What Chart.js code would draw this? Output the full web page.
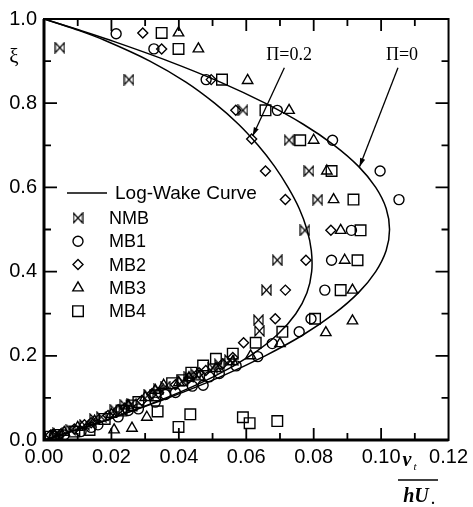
<!DOCTYPE html>
<html>
<head>
<meta charset="utf-8">
<script src="https://cdn.jsdelivr.net/npm/chart.js@4"></script>
<style>
  body { margin: 0; background: #fff; }
  #wrap { width: 473px; height: 507px; }
</style>
</head>
<body>
<div id="wrap"><canvas id="chart"></canvas></div>
<script>
// log-wake curves (xi on y axis, nu_t/hU* on x axis)
const curveXi = [0, 0.025, 0.05, 0.1, 0.15, 0.2, 0.25, 0.3, 0.35, 0.4, 0.45, 0.5, 0.55, 0.6, 0.65, 0.7, 0.75, 0.8, 0.85, 0.9, 0.95, 0.975, 1];
const piZeroNu = [0, 0.0100, 0.0195, 0.0369, 0.0523, 0.0656, 0.0769, 0.0861, 0.0933, 0.0984, 0.1015, 0.1025, 0.1015, 0.0984, 0.0933, 0.0861, 0.0769, 0.0656, 0.0523, 0.0369, 0.0195, 0.0100, 0];
const piTwoNu = [0, 0.0100, 0.0194, 0.0362, 0.0502, 0.0611, 0.0692, 0.0747, 0.0780, 0.0794, 0.0793, 0.0780, 0.0757, 0.0724, 0.0684, 0.0635, 0.0577, 0.0506, 0.0421, 0.0314, 0.0178, 0.0095, 0];

// measured points
const nmbX = [0.0047, 0.0252, 0.0590, 0.0727, 0.0786, 0.0812, 0.0774, 0.0692, 0.0660, 0.0636, 0.0639, 0.004, 0.008, 0.012, 0.017, 0.021, 0.026, 0.031, 0.036, 0.041, 0.045, 0.050, 0.055, 0.003, 0.015, 0.024, 0.034, 0.043, 0.052];
const nmbY = [0.932, 0.856, 0.783, 0.712, 0.639, 0.571, 0.498, 0.427, 0.356, 0.285, 0.259, 0.016, 0.024, 0.036, 0.055, 0.072, 0.086, 0.108, 0.127, 0.140, 0.156, 0.172, 0.190, 0.010, 0.050, 0.083, 0.120, 0.150, 0.180];

const mb1X = [0.0214, 0.0326, 0.0481, 0.0692, 0.0856, 0.0997, 0.1053, 0.0912, 0.0853, 0.0833, 0.0792, 0.0757, 0.0677, 0.0634, 0.006, 0.011, 0.016, 0.022, 0.028, 0.033, 0.039, 0.044, 0.0472, 0.052, 0.057, 0.003, 0.014, 0.025, 0.036, 0.049];
const mb1Y = [0.965, 0.929, 0.856, 0.783, 0.712, 0.639, 0.571, 0.498, 0.427, 0.356, 0.288, 0.257, 0.229, 0.198, 0.012, 0.020, 0.036, 0.055, 0.074, 0.090, 0.113, 0.128, 0.130, 0.158, 0.176, 0.008, 0.030, 0.070, 0.108, 0.150];

const mb2X = [0.0293, 0.0349, 0.0496, 0.0569, 0.0616, 0.0657, 0.0716, 0.0851, 0.0777, 0.0716, 0.0686, 0.0592, 0.005, 0.009, 0.014, 0.019, 0.024, 0.029, 0.034, 0.039, 0.043, 0.048, 0.053, 0.002, 0.012, 0.022, 0.032, 0.046, 0.056];
const mb2Y = [0.967, 0.929, 0.856, 0.783, 0.715, 0.639, 0.571, 0.498, 0.427, 0.356, 0.288, 0.231, 0.014, 0.026, 0.041, 0.058, 0.076, 0.094, 0.112, 0.131, 0.147, 0.165, 0.181, 0.012, 0.036, 0.072, 0.110, 0.160, 0.196];

const mb3X = [0.0399, 0.0458, 0.0604, 0.0727, 0.0800, 0.0839, 0.0859, 0.0880, 0.0892, 0.0915, 0.0915, 0.0836, 0.0700, 0.0613, 0.006, 0.010, 0.015, 0.0208, 0.0261, 0.0305, 0.020, 0.025, 0.030, 0.0355, 0.040, 0.046, 0.051, 0.056, 0.003, 0.033, 0.043];
const mb3Y = [0.967, 0.929, 0.854, 0.783, 0.712, 0.639, 0.571, 0.498, 0.427, 0.356, 0.283, 0.255, 0.229, 0.200, 0.018, 0.030, 0.045, 0.024, 0.028, 0.054, 0.061, 0.081, 0.101, 0.130, 0.136, 0.150, 0.170, 0.186, 0.012, 0.118, 0.148];

const mb4X = [0.0349, 0.0399, 0.0528, 0.0657, 0.0760, 0.0853, 0.0918, 0.0939, 0.0930, 0.0880, 0.0804, 0.0707, 0.0628, 0.0560, 0.0590, 0.0610, 0.0692, 0.0399, 0.0434, 0.0337, 0.0135, 0.004, 0.009, 0.018, 0.023, 0.028, 0.033, 0.038, 0.0437, 0.0472, 0.0510, 0.002, 0.026, 0.041];
const mb4Y = [0.967, 0.929, 0.856, 0.783, 0.712, 0.639, 0.571, 0.498, 0.427, 0.356, 0.288, 0.257, 0.231, 0.205, 0.054, 0.040, 0.045, 0.031, 0.061, 0.068, 0.024, 0.012, 0.020, 0.050, 0.070, 0.090, 0.106, 0.135, 0.160, 0.177, 0.193, 0.008, 0.082, 0.142];

const legendLabels = ["NMB", "MB1", "MB2", "MB3", "MB4"];

function pts(xs, ys) {
  return xs.map((v, i) => ({ x: v, y: ys[i] }));
}

// bow-tie marker for NMB
function bowtie() {
  const c = document.createElement("canvas");
  c.width = 11;
  c.height = 12;
  const g = c.getContext("2d");
  g.strokeStyle = "#000";
  g.lineWidth = 1.2;
  g.beginPath();
  g.moveTo(1, 1);
  g.lineTo(1, 11);
  g.lineTo(10, 1);
  g.lineTo(10, 11);
  g.closePath();
  g.stroke();
  return c;
}
const bowtieImg = bowtie();

function marker(style, radius) {
  return {
    type: "scatter",
    pointStyle: style,
    pointRadius: radius,
    pointHoverRadius: radius,
    pointBorderColor: "#000",
    pointBackgroundColor: "rgba(0,0,0,0)",
    pointBorderWidth: 1.4,
  };
}

function curve(nu) {
  return {
    type: "scatter",
    data: pts(nu, curveXi),
    showLine: true,
    borderColor: "#000",
    borderWidth: 1.5,
    pointRadius: 0,
    tension: 0.35,
  };
}

function drawSymbol(ctx, kind, x, y) {
  ctx.beginPath();
  if (kind === "NMB") {
    ctx.drawImage(bowtieImg, x - 5.5, y - 6);
    return;
  }
  if (kind === "MB1") ctx.arc(x, y, 5, 0, Math.PI * 2);
  if (kind === "MB2") {
    ctx.moveTo(x - 5, y); ctx.lineTo(x, y - 5); ctx.lineTo(x + 5, y); ctx.lineTo(x, y + 5); ctx.closePath();
  }
  if (kind === "MB3") {
    ctx.moveTo(x, y - 6); ctx.lineTo(x + 5.2, y + 3); ctx.lineTo(x - 5.2, y + 3); ctx.closePath();
  }
  if (kind === "MB4") ctx.rect(x - 5.3, y - 5.3, 10.6, 10.6);
  ctx.stroke();
}

function arrow(ctx, x1, y1, x2, y2) {
  ctx.beginPath();
  ctx.moveTo(x1, y1);
  ctx.lineTo(x2, y2);
  ctx.stroke();
  const ang = Math.atan2(y2 - y1, x2 - x1);
  ctx.beginPath();
  ctx.moveTo(x2, y2);
  ctx.lineTo(x2 - 9 * Math.cos(ang - 0.3), y2 - 9 * Math.sin(ang - 0.3));
  ctx.lineTo(x2 - 9 * Math.cos(ang + 0.3), y2 - 9 * Math.sin(ang + 0.3));
  ctx.closePath();
  ctx.fill();
}

const decor = {
  id: "decor",
  afterDraw(chart) {
    const { ctx, chartArea: a } = chart;
    const x = chart.scales.x;
    const y = chart.scales.y;
    ctx.save();
    ctx.strokeStyle = "#000";
    ctx.fillStyle = "#000";

    // inward ticks
    ctx.lineWidth = 1.8;
    for (let i = 1; i < 12; i++) {
      const px = x.getPixelForValue(i * 0.01);
      const len = i % 2 === 0 ? 12 : 7;
      ctx.beginPath();
      ctx.moveTo(px, a.bottom); ctx.lineTo(px, a.bottom - len);
      ctx.moveTo(px, a.top); ctx.lineTo(px, a.top + len);
      ctx.stroke();
    }
    for (let i = 1; i < 10; i++) {
      const py = y.getPixelForValue(i * 0.1);
      const len = i % 2 === 0 ? 13 : 7;
      ctx.beginPath();
      ctx.moveTo(a.left, py); ctx.lineTo(a.left + len, py);
      ctx.moveTo(a.right, py); ctx.lineTo(a.right - len, py);
      ctx.stroke();
    }

    // frame
    ctx.lineWidth = 2;
    ctx.strokeRect(a.left, a.top, a.right - a.left, a.bottom - a.top);
    ctx.lineWidth = 3;
    ctx.beginPath();
    ctx.moveTo(a.left, a.top);
    ctx.lineTo(a.left, a.bottom);
    ctx.lineTo(a.right, a.bottom);
    ctx.stroke();

    // legend
    ctx.lineWidth = 1.5;
    ctx.beginPath();
    ctx.moveTo(a.left + 23, a.top + 174);
    ctx.lineTo(a.left + 63, a.top + 174);
    ctx.stroke();
    ctx.textBaseline = "middle";
    ctx.font = "19px 'Liberation Sans', Arial, sans-serif";
    ctx.fillText("Log-Wake Curve", a.left + 71, a.top + 175);
    ctx.font = "18px 'Liberation Sans', Arial, sans-serif";
    ctx.lineWidth = 1.4;
    legendLabels.forEach((lab, i) => {
      const ly = a.top + 199 + i * 23.3;
      drawSymbol(ctx, lab, a.left + 34, ly);
      ctx.fillText(lab, a.left + 65, ly + 1);
    });

    // annotations
    ctx.font = "18px 'Liberation Serif', 'Times New Roman', serif";
    ctx.textAlign = "center";
    ctx.fillText("\u03A0=0.2", x.getPixelForValue(0.0727), y.getPixelForValue(0.913));
    ctx.fillText("\u03A0=0", x.getPixelForValue(0.1062), y.getPixelForValue(0.913));
    ctx.lineWidth = 1.3;
    arrow(ctx, x.getPixelForValue(0.0713), y.getPixelForValue(0.884), x.getPixelForValue(0.0619), y.getPixelForValue(0.722));
    arrow(ctx, x.getPixelForValue(0.105), y.getPixelForValue(0.884), x.getPixelForValue(0.0936), y.getPixelForValue(0.649));

    // axis titles
    ctx.font = "21px 'Liberation Serif', serif";
    ctx.fillText("\u03BE", 14, 57);

    ctx.font = "italic bold 20px 'Liberation Serif', serif";
    ctx.fillText("\u03BD", 407, 461);
    ctx.font = "italic 11px 'Liberation Serif', serif";
    ctx.fillText("t", 415, 467);
    ctx.lineWidth = 1.6;
    ctx.beginPath();
    ctx.moveTo(398, 480);
    ctx.lineTo(438, 480);
    ctx.stroke();
    ctx.font = "italic bold 20px 'Liberation Serif', serif";
    ctx.fillText("hU", 416, 497);
    ctx.font = "bold 14px 'Liberation Serif', serif";
    ctx.fillText(".", 433, 500);
    ctx.restore();
  },
};

const tickFont = { family: "'Liberation Sans', Arial, sans-serif", size: 20 };

new Chart(document.getElementById("chart"), {
  type: "scatter",
  data: {
    datasets: [
      curve(piZeroNu),
      curve(piTwoNu),
      { ...marker(bowtieImg, 6), data: pts(nmbX, nmbY) },
      { ...marker("circle", 5), data: pts(mb1X, mb1Y) },
      { ...marker("rectRot", 5), data: pts(mb2X, mb2Y) },
      { ...marker("triangle", 6), data: pts(mb3X, mb3Y) },
      { ...marker("rect", 7.5), data: pts(mb4X, mb4Y) },
    ],
  },
  options: {
    responsive: true,
    maintainAspectRatio: false,
    animation: false,
    layout: { padding: { top: 16, right: 20, left: 0, bottom: 0 } },
    plugins: { legend: { display: false }, tooltip: { enabled: false } },
    scales: {
      x: {
        type: "linear",
        min: 0,
        max: 0.12,
        grid: { display: false, drawTicks: false },
        border: { display: false },
        afterFit(s) { s.height = 67; },
        ticks: {
          stepSize: 0.02,
          autoSkip: false,
          maxRotation: 0,
          padding: 5,
          color: "#000",
          font: tickFont,
          callback: (v) => v.toFixed(2),
        },
      },
      y: {
        type: "linear",
        min: 0,
        max: 1,
        grid: { display: false, drawTicks: false },
        border: { display: false },
        afterFit(s) { s.width = 44; },
        ticks: {
          stepSize: 0.2,
          autoSkip: false,
          padding: 7,
          color: "#000",
          font: tickFont,
          callback: (v) => v.toFixed(1),
        },
      },
    },
  },
  plugins: [decor],
});
</script>
</body>
</html>
